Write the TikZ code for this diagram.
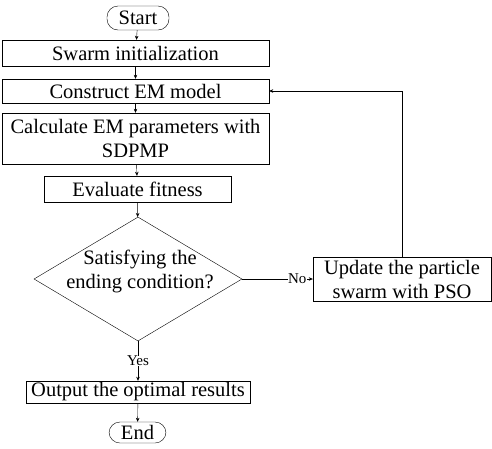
\documentclass[tikz,border=0pt]{standalone}
\usepackage{fontspec}
\setmainfont{Liberation Serif}
\usetikzlibrary{shapes.geometric,arrows.meta}
\begin{document}
\begin{tikzpicture}[x=1pt,y=-1pt,
  box/.style={draw,inner sep=1pt,font=\fontsize{20.5}{24}\selectfont,align=center},
  term/.style={draw,rounded corners=11pt,inner sep=1pt,font=\fontsize{20.5}{24}\selectfont},
  lbl/.style={fill=white,inner sep=0.5pt,font=\fontsize{15}{17}\selectfont},
  >={Stealth[length=4pt,width=3.5pt]}]
\useasboundingbox (0,0) rectangle (492,448);
\node[term,minimum width=62pt,minimum height=24pt] (start) at (138,18) {Start};
\node[box,minimum width=267pt,minimum height=26pt] (init) at (135.5,53) {Swarm initialization};
\node[box,minimum width=267pt,minimum height=24pt] (model) at (135.5,91) {Construct EM model};
\node[box,minimum width=267pt,minimum height=51pt] (calc) at (135.5,138.5) {Calculate EM parameters with\\SDPMP};
\node[box,minimum width=187pt,minimum height=26pt] (fit) at (137.5,189) {Evaluate fitness};
\node[draw,diamond,minimum width=208pt,minimum height=124pt,inner sep=0pt] (cond) at (138,279) {};
\node[font=\fontsize{20.5}{24}\selectfont,align=center] (condtxt) at (140,271) {Satisfying the\\ending condition?};
\node[box,minimum width=178pt,minimum height=44pt] (update) at (402,279) {Update the particle\\swarm with PSO};
\node[box,minimum width=224pt,minimum height=22pt] (out) at (138,392) {Output the optimal results};
\node[term,minimum width=57pt,minimum height=21pt] (end) at (137.5,432.5) {End};
% main flow
\draw[->] (start) -- (init);
\draw[->] (init) -- (model);
\draw[->] (model) -- (calc);
\draw[->] (calc) -- (fit);
\draw[->] (fit) -- (cond);
\draw[->] (cond.south) -- node[lbl] {Yes} (out.north);
\draw[->] (out) -- (end);
% loop back
\draw[->] (cond.east) -- node[lbl,pos=0.78] {No} (update.west);
\draw[->] (update.north) |- (model.east);
\end{tikzpicture}
\end{document}
